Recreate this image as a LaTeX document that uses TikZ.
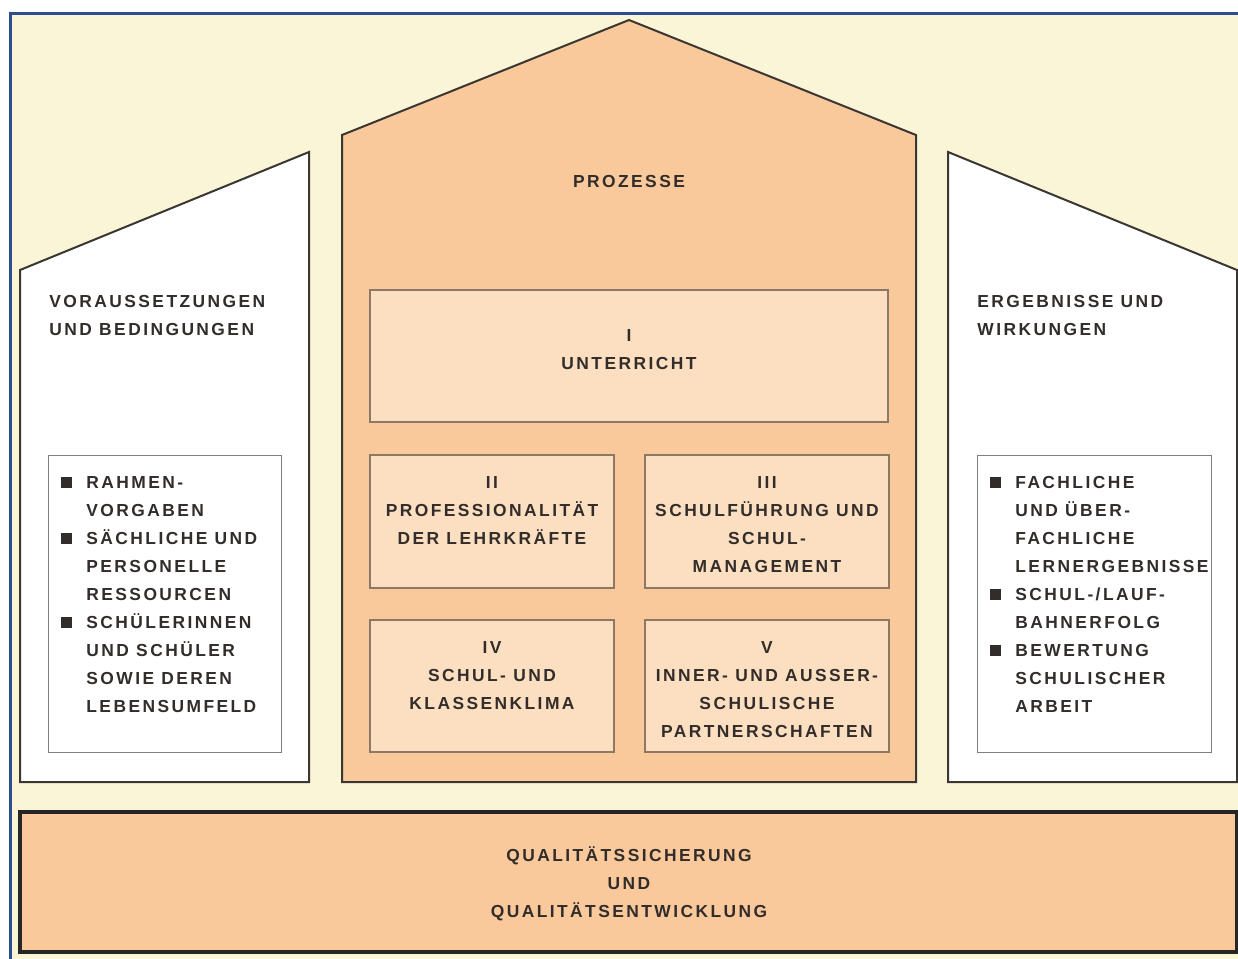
\documentclass[tikz,border=0pt]{standalone}
\usepackage{fontspec}
\setmainfont{Liberation Sans}[LetterSpace=14]
\usepackage{tikz}
\usetikzlibrary{positioning}
\definecolor{rahmenblau}{RGB}{45,78,140}
\definecolor{creme}{RGB}{251,245,216}
\definecolor{pfirsich}{RGB}{249,201,156}
\definecolor{hellpfirsich}{RGB}{252,222,193}
\definecolor{schrift}{RGB}{50,45,42}
\definecolor{linie}{RGB}{58,54,50}
\definecolor{kastenlinie}{RGB}{140,120,100}
\newcommand{\blt}{\rule{5.5pt}{5.5pt}}

\begin{document}
\begin{tikzpicture}[x=0.5pt, y=-0.5pt,
    haus/.style={draw=linie, line width=1pt, line join=miter},
    kasten/.style={draw=kastenlinie, line width=0.6pt, fill=hellpfirsich},
    liste/.style={draw=gray, line width=0.5pt, fill=white},
    txt/.style={font=\fontsize{8.7}{14}\selectfont\bfseries, text=schrift,
        align=center, inner sep=0pt, anchor=base},
    ltxt/.style={txt, align=left, anchor=base west}
]
    \useasboundingbox (0,0) rectangle (1238,959);
    \begin{scope}
        \clip (0,0) rectangle (1238,959);
        \draw[rahmenblau, line width=1.5pt, fill=creme] (10,13) rectangle (1260,975);
    \end{scope}

    % Haus: zwei Seitenfluegel und Mittelteil
    \draw[haus, fill=white] (20,270) -- (309,152) -- (309,782) -- (20,782) -- cycle;
    \draw[haus, fill=pfirsich] (342,135) -- (629,20) -- (916,135) -- (916,782) -- (342,782) -- cycle;
    \draw[haus, fill=white] (948,152) -- (1237,270) -- (1237,782) -- (948,782) -- cycle;
    \draw[draw=black!85, line width=1.8pt, fill=pfirsich] (20,812) rectangle (1237,952);

    \draw[liste] (48,455) rectangle (281,752);
    \draw[liste] (977,455) rectangle (1211,752);
    \draw[kasten] (370,290) rectangle (888,422);
    \draw[kasten] (370,455) rectangle (614,588);
    \draw[kasten] (645,455) rectangle (889,588);
    \draw[kasten] (370,620) rectangle (614,752);
    \draw[kasten] (645,620) rectangle (889,752);

    % mehrzeilige Texte: Position = Grundlinie der letzten Zeile
    \node[txt] (proz) at (629,187) {PROZESSE};
    \node[ltxt] (vor) at (49,335) {VORAUSSETZUNGEN\\UND BEDINGUNGEN};
    \node[ltxt] (erg) at (977,335) {ERGEBNISSE UND\\WIRKUNGEN};

    \node[txt] (k1) at (629,369) {I\\UNTERRICHT};
    \node[txt] (k2) at (492,544) {II\\PROFESSIONALITÄT\\DER LEHRKRÄFTE};
    \node[txt] (k3) at (767,572) {III\\SCHULFÜHRUNG UND\\SCHUL-\\MANAGEMENT};
    \node[txt] (k4) at (492,709) {IV\\SCHUL- UND\\KLASSENKLIMA};
    \node[txt] (k5) at (767,737) {V\\INNER- UND AUSSER-\\SCHULISCHE\\PARTNERSCHAFTEN};

    \node[ltxt] (listeL) at (61,488) {\begin{tabular}[t]{@{}l@{\hspace{7pt}}l@{}}
        \blt & RAHMEN-\\ & VORGABEN\\
        \blt & SÄCHLICHE UND\\ & PERSONELLE\\ & RESSOURCEN\\
        \blt & SCHÜLERINNEN\\ & UND SCHÜLER\\ & SOWIE DEREN\\ & LEBENSUMFELD
    \end{tabular}};
    \node[ltxt] (listeR) at (990,488) {\begin{tabular}[t]{@{}l@{\hspace{7pt}}l@{}}
        \blt & FACHLICHE\\ & UND ÜBER-\\ & FACHLICHE\\ & LERNERGEBNISSE\\
        \blt & SCHUL-/LAUF-\\ & BAHNERFOLG\\
        \blt & BEWERTUNG\\ & SCHULISCHER\\ & ARBEIT
    \end{tabular}};

    \node[txt] (qual) at (629,917) {QUALITÄTSSICHERUNG\\UND\\QUALITÄTSENTWICKLUNG};
\end{tikzpicture}
\end{document}
